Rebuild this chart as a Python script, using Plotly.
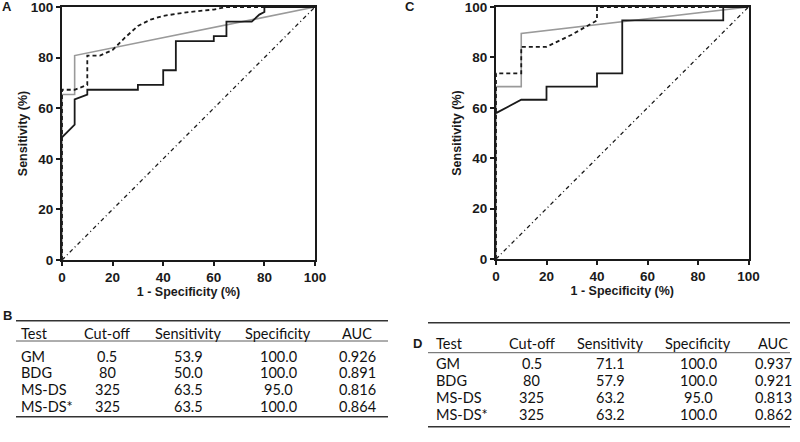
import plotly.graph_objects as go

# ---------------- data ----------------
# Panel A ROC curves
a_solid_x = [0, 5, 5, 10, 10, 30, 30, 40, 40, 45, 45, 60, 60, 65, 65, 75, 78, 80, 80, 100]
a_solid_y = [48.5, 53.5, 63.5, 65.4, 67.3, 67.3, 69.2, 69.2, 75.0, 75.0, 86.5, 86.5, 88.5, 88.5, 94.2, 94.2, 97.0, 98.0, 100, 100]
a_dash_x = [0, 0, 5, 10, 10, 15, 20, 25, 30, 35, 40, 50, 60, 65, 100]
a_dash_y = [0, 67.3, 67.3, 69.2, 80.8, 80.8, 83.0, 88.0, 92.5, 95.0, 96.5, 98.0, 99.0, 100, 100]
a_grey_x = [0, 0, 5, 5, 100]
a_grey_y = [0, 65.4, 65.4, 80.8, 100]

# Panel C ROC curves
c_solid_x = [0, 10, 20, 20, 40, 40, 50, 50, 90, 90, 100]
c_solid_y = [57.9, 63.2, 63.2, 68.4, 68.4, 73.7, 73.7, 94.7, 94.7, 100, 100]
c_dash_x = [0, 0, 10, 10, 20, 30, 40, 40, 100]
c_dash_y = [0, 73.7, 73.7, 84.2, 84.2, 89.0, 94.7, 100, 100]
c_grey_x = [0, 0, 10, 10, 100]
c_grey_y = [0, 68.4, 68.4, 89.5, 100]

ref_x = [0, 100]
ref_y = [0, 100]

tick_vals = [0, 20, 40, 60, 80, 100]
tick_text = ["0", "20", "40", "60", "80", "100"]

# Tables
table_header = ["Test", "Cut-off", "Sensitivity", "Specificity", "AUC"]
tests = ["GM", "BDG", "MS-DS", "MS-DS*"]
cutoffs = ["0.5", "80", "325", "325"]
b_sens = ["53.9", "50.0", "63.5", "63.5"]
b_spec = ["100.0", "100.0", "95.0", "100.0"]
b_auc = ["0.926", "0.891", "0.816", "0.864"]
d_sens = ["71.1", "57.9", "63.2", "63.2"]
d_spec = ["100.0", "100.0", "95.0", "100.0"]
d_auc = ["0.937", "0.921", "0.813", "0.862"]

# ---------------- figure ----------------
W, H = 800, 442
def px(x):
    return x / W
def py(y):
    return 1 - y / H

fig = go.Figure()

BLACK = "#1a1a1a"
GREY = "#9a9a9a"
DIAG_DASH = "4px,3px,1px,3px"

def add_panel(xa, ya, sx, sy, dx, dy, gx, gy):
    fig.add_trace(go.Scatter(x=ref_x, y=ref_y, mode="lines", xaxis=xa, yaxis=ya,
                             line=dict(color=BLACK, width=1.3, dash=DIAG_DASH), showlegend=False, hoverinfo="skip"))
    fig.add_trace(go.Scatter(x=gx, y=gy, mode="lines", xaxis=xa, yaxis=ya,
                             line=dict(color=GREY, width=1.6), showlegend=False))
    fig.add_trace(go.Scatter(x=sx, y=sy, mode="lines", xaxis=xa, yaxis=ya,
                             line=dict(color=BLACK, width=1.8), showlegend=False))
    fig.add_trace(go.Scatter(x=dx, y=dy, mode="lines", xaxis=xa, yaxis=ya,
                             line=dict(color=BLACK, width=1.8, dash="4px,3px"), showlegend=False))

add_panel("x", "y", a_solid_x, a_solid_y, a_dash_x, a_dash_y, a_grey_x, a_grey_y)
add_panel("x2", "y2", c_solid_x, c_solid_y, c_dash_x, c_dash_y, c_grey_x, c_grey_y)

tickfont = dict(family="Liberation Sans, Arial", size=13.5, color=BLACK)
titlefont = dict(family="Liberation Sans, Arial", size=12.5, color=BLACK)

def axis_common(title, domain, anchor, standoff):
    return dict(domain=domain, anchor=anchor, range=[0, 100], tickvals=tick_vals,
                ticktext=["<b>%s</b>" % t for t in tick_text], automargin=False,
                ticklabeloverflow="allow",
                showgrid=False, zeroline=False, showline=True, linecolor=BLACK, linewidth=2,
                mirror=True, ticks="outside", ticklen=4, tickwidth=1.5, tickcolor=BLACK,
                tickfont=tickfont, title=dict(text="<b>%s</b>" % title, font=titlefont, standoff=standoff))

fig.update_layout(
    width=W, height=H,
    margin=dict(l=0, r=0, t=0, b=0, autoexpand=False),
    paper_bgcolor="white", plot_bgcolor="white",
    xaxis=axis_common("1 - Specificity (%)", [px(62), px(315)], "y", 0),
    yaxis=axis_common("Sensitivity (%)", [py(260), py(7)], "x", 0),
    xaxis2=axis_common("1 - Specificity (%)", [px(496), px(748.5)], "y2", 0),
    yaxis2=axis_common("Sensitivity (%)", [py(259), py(7)], "x2", 0),
)

annotations = []
shapes = []

panel_font = dict(family="Liberation Sans, Arial", size=13, color=BLACK)
annotations.append(dict(text="<b>A</b>", x=px(7), y=py(7), xref="paper", yref="paper",
                        showarrow=False, font=panel_font, xanchor="center", yanchor="middle"))
annotations.append(dict(text="<b>C</b>", x=px(410), y=py(7), xref="paper", yref="paper",
                        showarrow=False, font=panel_font, xanchor="center", yanchor="middle"))

table_font = dict(family="Lato, Open Sans, sans-serif", size=14.5, color="#111111")

def add_table(label, label_xy, x0, x1, top, header_y, header_rule, row_ys, bottom,
              col_x, sens, spec, auc):
    annotations.append(dict(text="<b>%s</b>" % label, x=px(label_xy[0]), y=py(label_xy[1]),
                            xref="paper", yref="paper",
                            showarrow=False, font=panel_font, xanchor="center", yanchor="middle"))
    for yy, w in [(top, 1.6), (header_rule, 0.8), (bottom, 1.6)]:
        shapes.append(dict(type="line", xref="paper", yref="paper", x0=px(x0), x1=px(x1),
                           y0=py(yy), y1=py(yy), line=dict(color="#333333", width=w)))
    cols = [tests, cutoffs, sens, spec, auc]
    for j, h in enumerate(table_header):
        anchor = "left" if j == 0 else "center"
        annotations.append(dict(text=h, x=px(col_x[j]), y=py(header_y), xref="paper", yref="paper",
                                showarrow=False, font=table_font, xanchor=anchor, yanchor="middle"))
        for i, ry in enumerate(row_ys):
            annotations.append(dict(text=cols[j][i], x=px(col_x[j]), y=py(ry), xref="paper", yref="paper",
                                    showarrow=False, font=table_font, xanchor=anchor, yanchor="middle"))

add_table("B", (7, 315), 16, 388, 320.7, 333, 341, [356, 372.7, 389.3, 406], 416.7,
          [19, 107, 188, 278, 357], b_sens, b_spec, b_auc)
add_table("D", (417, 343), 428, 790, 322.7, 343, 352.7, [363, 380.5, 397.7, 414.7], 426.7,
          [434, 531.7, 610, 698, 773], d_sens, d_spec, d_auc)

fig.update_layout(annotations=annotations, shapes=shapes)

fig.write_html("out.html", config={"displayModeBar": False},
               post_script="document.body.style.margin='0';document.body.style.padding='0';")
